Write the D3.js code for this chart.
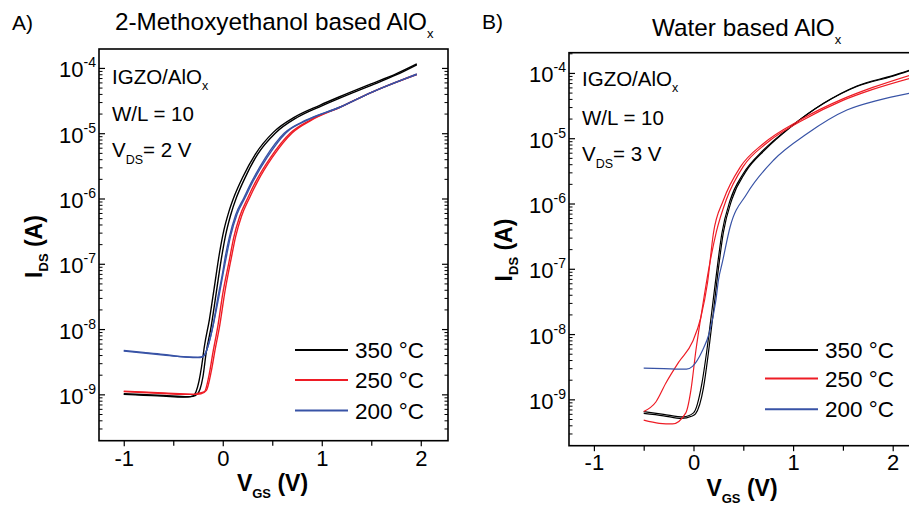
<!DOCTYPE html>
<html><head><meta charset="utf-8">
<script src="https://cdn.jsdelivr.net/npm/d3@7"></script>
<style>
body{margin:0;background:#fff;overflow:hidden;}
svg{font-family:"Liberation Sans",Arial,Helvetica,sans-serif;display:block;}
</style></head><body>
<svg id="c" width="909" height="505"></svg>
<script>
// ---------- DATA ----------
// Panel A (2-Methoxyethanol based AlOx, VDS = 2 V) : [VGS (V), IDS (A)]
const A350_fwd = [[-1.0,1.0e-9],[-0.8,9.7e-10],[-0.6,9.4e-10],[-0.4,9.1e-10],[-0.3,9.3e-10],[-0.26,1.0e-9],[-0.23,1.2e-9],[-0.2,1.86e-9],[-0.168,4.3e-9],[-0.117,1.1e-8],[-0.067,3.5e-8],[-0.016,1.15e-7],[0.03,2.8e-7],[0.08,5.6e-7],[0.14,1.05e-6],[0.22,2.0e-6],[0.35,4.7e-6],[0.53,1.0e-5],[0.75,1.74e-5],[1.0,2.63e-5],[1.2,3.55e-5],[1.5,5.4e-5],[1.75,7.8e-5],[1.96,1.12e-4]];
const A350_rev = [[-1.0,1.02e-9],[-0.6,9.6e-10],[-0.35,9.2e-10],[-0.3,9.5e-10],[-0.27,1.1e-9],[-0.24,1.6e-9],[-0.215,2.6e-9],[-0.185,5.5e-9],[-0.135,1.4e-8],[-0.085,4.4e-8],[-0.035,1.4e-7],[0.012,3.3e-7],[0.062,6.3e-7],[0.12,1.12e-6],[0.2,2.1e-6],[0.33,4.8e-6],[0.51,1.03e-5],[0.73,1.78e-5],[0.98,2.68e-5],[1.18,3.62e-5],[1.48,5.55e-5],[1.75,8.1e-5],[1.96,1.15e-4]];
const A250_fwd = [[-1.0,1.1e-9],[-0.8,1.07e-9],[-0.6,1.03e-9],[-0.4,1.0e-9],[-0.28,1.0e-9],[-0.236,1.05e-9],[-0.185,1.1e-9],[-0.135,2.1e-9],[-0.1,4.3e-9],[-0.05,1.1e-8],[0.0,3.5e-8],[0.067,1.15e-7],[0.11,2.5e-7],[0.17,5.25e-7],[0.25,1.0e-6],[0.33,1.78e-6],[0.48,4.2e-6],[0.68,1.0e-5],[0.88,1.58e-5],[1.18,2.5e-5],[1.515,4.3e-5],[1.75,6.0e-5],[1.96,7.9e-5]];
const A250_rev = [[-1.0,1.12e-9],[-0.6,1.05e-9],[-0.3,1.0e-9],[-0.22,1.02e-9],[-0.165,1.15e-9],[-0.115,2.3e-9],[-0.08,4.6e-9],[-0.03,1.15e-8],[0.02,3.6e-8],[0.085,1.2e-7],[0.13,2.6e-7],[0.19,5.4e-7],[0.27,1.02e-6],[0.35,1.8e-6],[0.5,4.25e-6],[0.7,1.01e-5],[0.9,1.6e-5],[1.19,2.52e-5],[1.52,4.35e-5],[1.75,6.05e-5],[1.96,8.0e-5]];
const A200_fwd = [[-1.0,4.7e-9],[-0.8,4.4e-9],[-0.6,4.1e-9],[-0.437,3.8e-9],[-0.3,3.7e-9],[-0.219,3.7e-9],[-0.185,4.0e-9],[-0.15,5.4e-9],[-0.1,1.1e-8],[-0.05,3.0e-8],[0.0,7.5e-8],[0.02,1.15e-7],[0.065,2.5e-7],[0.13,5.6e-7],[0.21,1.0e-6],[0.29,1.78e-6],[0.43,4.2e-6],[0.62,1.0e-5],[0.84,1.58e-5],[1.18,2.5e-5],[1.515,4.3e-5],[1.75,6.0e-5],[1.96,7.9e-5]];
const A200_rev = [[-1.0,4.6e-9],[-0.6,4.0e-9],[-0.4,3.75e-9],[-0.25,3.65e-9],[-0.2,3.8e-9],[-0.17,4.4e-9],[-0.13,7.0e-9],[-0.085,1.4e-8],[-0.035,3.4e-8],[0.01,8.0e-8],[0.035,1.25e-7],[0.08,2.7e-7],[0.145,5.8e-7],[0.225,1.03e-6],[0.305,1.82e-6],[0.45,4.3e-6],[0.64,1.02e-5],[0.86,1.6e-5],[1.19,2.52e-5],[1.52,4.35e-5],[1.75,6.05e-5],[1.96,8.1e-5]];

// Panel B (Water based AlOx, VDS = 3 V)
const B350_fwd = [[-0.5,6.5e-10],[-0.3,5.9e-10],[-0.1,5.4e-10],[0.0,6.2e-10],[0.084,1.74e-9],[0.134,5.6e-9],[0.185,2.3e-8],[0.225,7.2e-8],[0.285,3.5e-7],[0.368,1.12e-6],[0.502,2.9e-6],[0.703,6.6e-6],[0.971,1.48e-5],[1.305,3.4e-5],[1.64,6.2e-5],[2.0,8.9e-5],[2.2,1.12e-4]];
const B350_rev = [[-0.5,6.1e-10],[-0.3,5.6e-10],[-0.12,5.1e-10],[-0.02,5.5e-10],[0.02,6.0e-10],[0.1,1.5e-9],[0.15,5.2e-9],[0.2,2.2e-8],[0.24,7.5e-8],[0.3,3.6e-7],[0.385,1.15e-6],[0.52,3.0e-6],[0.72,6.7e-6],[0.98,1.5e-5],[1.31,3.45e-5],[1.64,6.3e-5],[2.0,9.1e-5],[2.2,1.14e-4]];
const B250_fwd = [[-0.5,6.5e-10],[-0.378,9.1e-10],[-0.277,1.78e-9],[-0.144,3.8e-9],[-0.01,7.6e-9],[0.074,1.8e-8],[0.14,6.0e-8],[0.2,3.5e-7],[0.3,1.12e-6],[0.469,3.6e-6],[0.703,8.3e-6],[1.07,1.9e-5],[1.5,4.0e-5],[1.8,6.0e-5],[2.2,9.5e-5]];
const B250_rev = [[-0.5,4.8e-10],[-0.344,4.3e-10],[-0.21,4.2e-10],[-0.077,6.2e-10],[-0.026,1.38e-9],[0.024,5.6e-9],[0.09,2.6e-8],[0.157,1.07e-7],[0.23,3.7e-7],[0.33,1.15e-6],[0.5,3.7e-6],[0.73,8.3e-6],[1.1,1.9e-5],[1.5,3.8e-5],[1.8,5.6e-5],[2.2,8.5e-5]];
const B200_fwd = [[-0.5,3.0e-9],[-0.3,2.95e-9],[-0.07,2.9e-9],[-0.01,3.2e-9],[0.09,5.6e-9],[0.157,1.02e-8],[0.225,3.3e-8],[0.251,6.8e-8],[0.29,1.26e-7],[0.368,4.4e-7],[0.536,1.41e-6],[0.803,4.6e-6],[1.139,1.17e-5],[1.54,2.7e-5],[1.85,3.8e-5],[2.2,5.0e-5]];

const yTickExponents = [-9, -8, -7, -6, -5, -4];
const xTickValues = [-1, 0, 1, 2];
const xMinorValues = [-0.5, 0.5, 1.5];
const legendLabels = ["350 °C", "250 °C", "200 °C"];

// ---------- LAYOUT / STYLE ----------
const colors = ["#000000", "#ee1c25", "#3853a6"];
const svg = d3.select("#c");
const FONT_TICK = 22, FONT_SUP = 14;

const panels = [
  { letter:"A)", letterPos:[12,30], title:"2-Methoxyethanol based AlO", titlePos:[115,30],
    box:{l:99,t:49,r:448,b:440.7}, xd:[-1.25,2.275], yd:[-9.71,-3.71],
    sweeps:[[A350_fwd,A350_rev],[A250_fwd,A250_rev],[A200_fwd,A200_rev]],
    infoX:112, infoY:[84,120.5,157], vds:"= 2 V",
    legend:{x1:295,x2:348,tx:355,ys:[350,380,410.5]},
    ylab:{x:42,y:246.5}, xlab:{x:272.5,y:491}, xtickY:466.5, rightAxis:true, lw:1.4 },
  { letter:"B)", letterPos:[482,29], title:"Water based AlO", titlePos:[652,35.5],
    box:{l:569,t:52.7,r:917.6,b:445.7}, xd:[-1.25,2.25], yd:[-9.71,-3.69],
    sweeps:[[B350_fwd,B350_rev],[B250_fwd,B250_rev],[B200_fwd]],
    infoX:582, infoY:[86,125,161], vds:"= 3 V",
    legend:{x1:765,x2:818,tx:825,ys:[350,378.5,409.3]},
    ylab:{x:512,y:250}, xlab:{x:742,y:496}, xtickY:470.5, rightAxis:true, lw:1.2 }
];

panels.forEach((p, pi) => {
  const b = p.box;
  const x = d3.scaleLinear().domain(p.xd).range([b.l, b.r]);
  const y = d3.scaleLog().domain([Math.pow(10,p.yd[0]), Math.pow(10,p.yd[1])]).range([b.b, b.t]);
  const g = svg.append("g");

  const cid = "clip" + pi;
  svg.append("defs").append("clipPath").attr("id", cid)
    .append("rect").attr("x", b.l).attr("y", b.t).attr("width", b.r - b.l).attr("height", b.b - b.t);

  const majors = yTickExponents.map(e => Math.pow(10, e));
  const [y0, y1] = y.domain();
  const minors = [];
  for (let e = -10; e <= -3; e++) for (let m = 2; m <= 9; m++) {
    const v = m * Math.pow(10, e);
    if (v >= y0 && v <= y1) minors.push(v);
  }

  const la = g.append("g").attr("transform", `translate(${b.l},0)`)
    .call(d3.axisLeft(y).tickValues(majors).tickSizeInner(-6).tickSizeOuter(0).tickPadding(3).tickFormat(() => ""));
  la.select(".domain").remove();
  la.attr("font-family", null).attr("font-size", FONT_TICK);
  la.selectAll(".tick line").attr("stroke-width", 1.2);
  la.selectAll(".tick text").each(function(d) {
    const t = d3.select(this);
    const ex = Math.round(Math.log10(d));
    t.attr("dy", null).attr("y", 9).attr("fill", "#000").text("10");
    t.append("tspan").attr("font-size", FONT_SUP).attr("dy", -10).text(String(ex));
  });
  const lm = g.append("g").attr("transform", `translate(${b.l},0)`)
    .call(d3.axisLeft(y).tickValues(minors).tickSizeInner(-3.5).tickSizeOuter(0).tickFormat(() => ""));
  lm.select(".domain").remove();
  lm.selectAll(".tick line").attr("stroke-width", 1);

  if (p.rightAxis) {
    const ra = g.append("g").attr("transform", `translate(${b.r},0)`)
      .call(d3.axisRight(y).tickValues(majors).tickSizeInner(-6).tickSizeOuter(0).tickFormat(() => ""));
    ra.select(".domain").remove();
    ra.selectAll(".tick line").attr("stroke-width", 1.2);
    const rm = g.append("g").attr("transform", `translate(${b.r},0)`)
      .call(d3.axisRight(y).tickValues(minors).tickSizeInner(-3.5).tickSizeOuter(0).tickFormat(() => ""));
    rm.select(".domain").remove();
    rm.selectAll(".tick line").attr("stroke-width", 1);
  }

  const ba = g.append("g").attr("transform", `translate(0,${b.b})`)
    .call(d3.axisBottom(x).tickValues(xTickValues).tickSizeInner(5.5).tickSizeOuter(0).tickFormat(d => String(d)));
  ba.select(".domain").remove();
  ba.attr("font-family", null).attr("font-size", FONT_TICK);
  ba.selectAll(".tick line").attr("stroke-width", 1.2);
  ba.selectAll(".tick text").attr("dy", null).attr("y", p.xtickY - b.b).attr("fill", "#000");
  const bm = g.append("g").attr("transform", `translate(0,${b.b})`)
    .call(d3.axisBottom(x).tickValues(xMinorValues).tickSizeInner(5).tickSizeOuter(0).tickFormat(() => ""));
  bm.select(".domain").remove();
  bm.selectAll(".tick line").attr("stroke-width", 1.2);

  const line = d3.line().x(d => x(d[0])).y(d => y(d[1])).curve(d3.curveMonotoneX);
  const cg = g.append("g").attr("clip-path", `url(#${cid})`);
  p.sweeps.forEach((sw, si) => {
    sw.forEach(arr => {
      cg.append("path").attr("d", line(arr)).attr("fill", "none")
        .attr("stroke", colors[si]).attr("stroke-width", p.lw).attr("stroke-linejoin", "round");
    });
  });

  g.append("rect").attr("x", b.l).attr("y", b.t).attr("width", b.r - b.l).attr("height", b.b - b.t)
    .attr("fill", "none").attr("stroke", "#000").attr("stroke-width", 1.6);

  g.append("text").attr("x", p.letterPos[0]).attr("y", p.letterPos[1]).attr("font-size", 21).text(p.letter);
  const tt = g.append("text").attr("x", p.titlePos[0]).attr("y", p.titlePos[1]).attr("font-size", 24.3).text(p.title);
  tt.append("tspan").attr("font-size", 13).attr("dy", 8).text("x");

  const t1 = g.append("text").attr("x", p.infoX).attr("y", p.infoY[0]).attr("font-size", 20.5).text("IGZO/AlO");
  t1.append("tspan").attr("font-size", 12.5).attr("dy", 6).text("x");
  g.append("text").attr("x", p.infoX).attr("y", p.infoY[1]).attr("font-size", 20.5).text("W/L = 10");
  const t3 = g.append("text").attr("x", p.infoX).attr("y", p.infoY[2]).attr("font-size", 20.5).text("V");
  t3.append("tspan").attr("font-size", 12.5).attr("dy", 7).text("DS");
  t3.append("tspan").attr("dy", -7).text(p.vds);

  legendLabels.forEach((lab, i) => {
    const ly = p.legend.ys[i];
    g.append("line").attr("x1", p.legend.x1).attr("x2", p.legend.x2).attr("y1", ly).attr("y2", ly)
      .attr("stroke", colors[i]).attr("stroke-width", 2);
    g.append("text").attr("x", p.legend.tx).attr("y", ly + 8).attr("font-size", 22.5).text(lab);
  });

  const yl = g.append("text").attr("transform", `translate(${p.ylab.x},${p.ylab.y}) rotate(-90)`)
    .attr("text-anchor", "middle").attr("font-weight", "bold").attr("font-size", 23).text("I");
  yl.append("tspan").attr("font-size", 13).attr("dy", 6).text("DS");
  yl.append("tspan").attr("dy", -6).text(" (A)");
  const xl = g.append("text").attr("x", p.xlab.x).attr("y", p.xlab.y)
    .attr("text-anchor", "middle").attr("font-weight", "bold").attr("font-size", 23).text("V");
  xl.append("tspan").attr("font-size", 13).attr("dy", 6.5).text("GS");
  xl.append("tspan").attr("dy", -6.5).text(" (V)");
});
</script>
</body></html>
